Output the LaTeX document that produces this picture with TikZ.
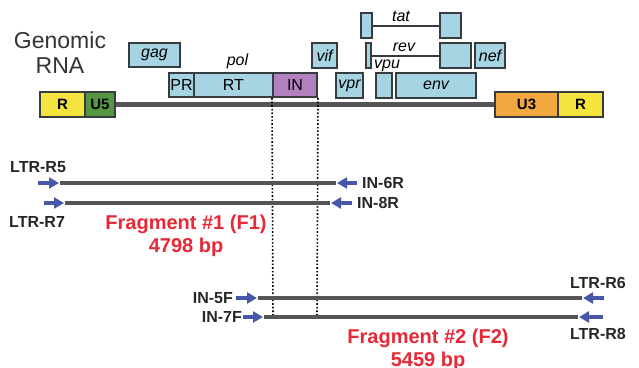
\documentclass[tikz,border=0pt]{standalone}
\usepackage{fontspec}
\setmainfont{Liberation Sans}
\usetikzlibrary{arrows.meta}
\definecolor{geneboxfill}{RGB}{166,212,226}
\definecolor{boxborder}{RGB}{55,60,64}
\definecolor{inboxfill}{RGB}{178,128,190}
\definecolor{rboxfill}{RGB}{246,228,62}
\definecolor{u5boxfill}{RGB}{86,150,66}
\definecolor{u3boxfill}{RGB}{242,168,62}
\definecolor{fragred}{RGB}{230,40,55}
\definecolor{primerblue}{RGB}{72,88,168}
\definecolor{linegray}{RGB}{85,85,85}
\tikzset{
  genebox/.style={
    rectangle, fill=geneboxfill, draw=boxborder, line width=2pt,
    inner sep=0pt, minimum height=24pt,
    font=\fontsize{16}{19}\selectfont\itshape},
  polbox/.style={genebox, font=\fontsize{16}{19}\selectfont},
  ltrbox/.style={genebox, minimum height=25pt,
    font=\fontsize{15}{18}\selectfont\bfseries},
  genomeline/.style={line width=5pt, draw=linegray},
  fragline/.style={line width=4.5pt, draw=linegray},
  exonline/.style={line width=2pt, draw=boxborder},
  guide/.style={dotted, line width=1.6pt, draw=black},
  primer/.style={-{Triangle[length=10pt,width=11pt]}, line width=3.5pt,
    draw=primerblue},
  primerlabel/.style={inner sep=0pt, text=black!85,
    font=\fontsize{16}{19}\selectfont\bfseries},
  fraglabel/.style={inner sep=0pt, text=fragred, align=center,
    font=\fontsize{20}{23}\selectfont\bfseries},
  genelabel/.style={inner sep=0pt,
    font=\fontsize{16}{19}\selectfont\itshape}
}
\begin{document}
\begin{tikzpicture}[x=1pt, y=-1pt]
  \useasboundingbox (0,0) rectangle (639,367);

  %% Title
  \node[align=center, inner sep=0pt, text=black!80,
        font=\fontsize{23}{25}\selectfont] (title) at (60,52.5)
    {Genomic\\RNA};

  %% LTRs
  \node[ltrbox, fill=rboxfill, minimum width=45pt] (r5) at (62.5,104.5) {R};
  \node[ltrbox, fill=u5boxfill, minimum width=30pt] (u5) at (100,104.5) {U5};
  \node[ltrbox, fill=u3boxfill, minimum width=63pt] (u3) at (526.5,104.5) {U3};
  \node[ltrbox, fill=rboxfill, minimum width=45pt] (r3) at (580.5,104.5) {R};

  %% Genes
  \node[genebox, minimum width=51pt] (gag) at (154.5,55) {gag};
  \node[polbox, minimum width=25pt] (pr) at (181.5,85) {PR};
  \node[polbox, minimum width=79pt] (rt) at (233.5,85) {RT};
  \node[polbox, fill=inboxfill, minimum width=44pt] (in) at (295,85) {IN};
  \node[genelabel] (pol) at (237.5,61) {pol};
  \node[genebox, minimum width=25pt, minimum height=25pt] (vif) at (324.5,55.5) {vif};
  \node[genebox, minimum width=27pt, minimum height=25pt] (vpr) at (349.5,85.5) {vpr};
  \node[genebox, minimum width=16pt, minimum height=25pt] (vpu) at (384,85.5) {};
  \node[genelabel] (vpulabel) at (387,66) {vpu};
  \node[genebox, minimum width=80pt, minimum height=25pt] (env) at (436,85.5) {env};

  %% Spliced exons
  \node[genebox, minimum width=11pt, minimum height=25pt] (tat1) at (366.5,25.5) {};
  \node[genebox, minimum width=21pt, minimum height=25pt] (tat2) at (450.5,25.5) {};
  \node[genelabel] (tatlabel) at (401,16.5) {tat};
  \node[genebox, minimum width=5pt, minimum height=25pt] (rev1) at (368.5,55.5) {};
  \node[genebox, minimum width=31pt, minimum height=25pt] (rev2) at (455.5,55.5) {};
  \node[genelabel] (revlabel) at (404,47.5) {rev};
  \node[genebox, minimum width=30pt, minimum height=25pt] (nef) at (490,55.5) {nef};

  \draw[exonline] (tat1.east) -- (tat2.west);
  \draw[exonline] (rev1.east) -- (rev2.west);

  %% Backbone
  \draw[genomeline] (u5.east) -- (u3.west);

  %% IN boundaries
  \coordinate (dotA) at (273,318);
  \coordinate (dotB) at (317,318);
  \draw[guide] (in.south west) -- (dotA);
  \draw[guide] (in.south east) -- (dotB);

  %% Fragment 1
  \coordinate (f1as) at (60,183);  \coordinate (f1ae) at (336,183);
  \coordinate (f1bs) at (65,203);  \coordinate (f1be) at (330,203);
  \draw[fragline] (f1as) -- (f1ae);
  \draw[fragline] (f1bs) -- (f1be);

  \coordinate (r5tail) at (38,183);   \coordinate (r5tip) at (59,183);
  \coordinate (r7tail) at (44,203);   \coordinate (r7tip) at (64,203);
  \coordinate (in6tail) at (357,183); \coordinate (in6tip) at (337,183);
  \coordinate (in8tail) at (352,203); \coordinate (in8tip) at (331,203);
  \draw[primer] (r5tail) -- (r5tip);
  \draw[primer] (r7tail) -- (r7tip);
  \draw[primer] (in6tail) -- (in6tip);
  \draw[primer] (in8tail) -- (in8tip);

  \node[primerlabel, anchor=west] (ltrr5) at (10,167) {LTR-R5};
  \node[primerlabel, anchor=west] (ltrr7) at (9,222) {LTR-R7};
  \node[primerlabel, anchor=west] (in6r) at (362,183) {IN-6R};
  \node[primerlabel, anchor=west] (in8r) at (357,203) {IN-8R};

  \node[fraglabel] (frag1) at (186,236) {Fragment \#1 (F1)\\4798 bp};

  %% Fragment 2
  \coordinate (f2as) at (258,298); \coordinate (f2ae) at (582,298);
  \coordinate (f2bs) at (264,317); \coordinate (f2be) at (578,317);
  \draw[fragline] (f2as) -- (f2ae);
  \draw[fragline] (f2bs) -- (f2be);

  \coordinate (in5tail) at (236,298); \coordinate (in5tip) at (257,298);
  \coordinate (in7tail) at (243,317); \coordinate (in7tip) at (263,317);
  \coordinate (r6tail) at (604,298);  \coordinate (r6tip) at (583,298);
  \coordinate (r8tail) at (603,317);  \coordinate (r8tip) at (579,317);
  \draw[primer] (in5tail) -- (in5tip);
  \draw[primer] (in7tail) -- (in7tip);
  \draw[primer] (r6tail) -- (r6tip);
  \draw[primer] (r8tail) -- (r8tip);

  \node[primerlabel, anchor=east] (in5f) at (233,298) {IN-5F};
  \node[primerlabel, anchor=east] (in7f) at (242,317) {IN-7F};
  \node[primerlabel, anchor=east] (ltrr6) at (626,283) {LTR-R6};
  \node[primerlabel, anchor=east] (ltrr8) at (626,334) {LTR-R8};

  \node[fraglabel] (frag2) at (428,350) {Fragment \#2 (F2)\\5459 bp};

\end{tikzpicture}
\end{document}
